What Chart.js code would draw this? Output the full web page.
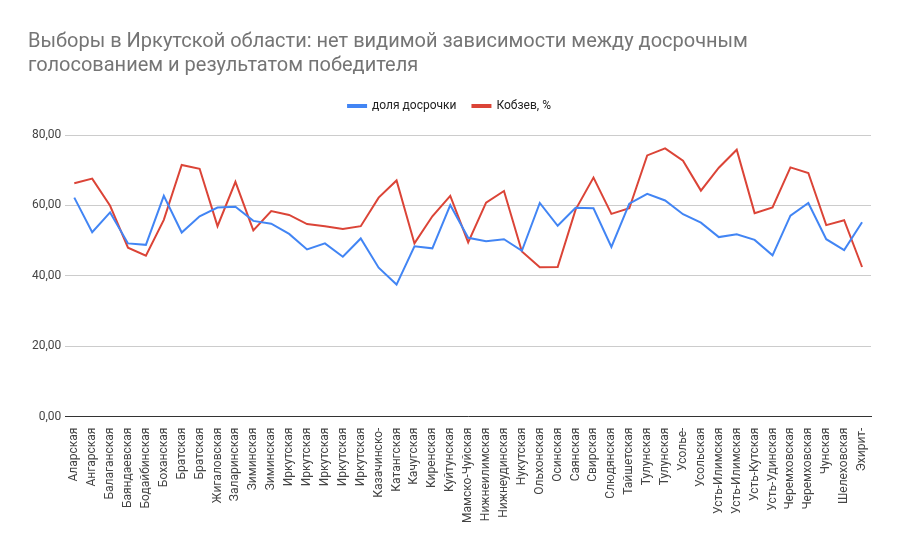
<!DOCTYPE html>
<html><head><meta charset="utf-8">
<script src="https://cdn.jsdelivr.net/npm/chart.js@4"></script>
<style>html,body{margin:0;padding:0;background:#fff}#w{width:899px;height:550px}</style>
</head><body><div id="w"><canvas id="c"></canvas></div>
<script>
const categories=["Аларская","Ангарская","Балаганская","Баяндаевская","Бодайбинская","Боханская","Братская","Братская","Жигаловская","Заларинская","Зиминская","Зиминская","Иркутская","Иркутская","Иркутская","Иркутская","Иркутская","Казачинско-","Катангская","Качугская","Киренская","Куйтунская","Мамско-Чуйская","Нижнеилимская","Нижнеудинская","Нукутская","Ольхонская","Осинская","Саянская","Свирская","Слюдянская","Тайшетская","Тулунская","Тулунская","Усолье-","Усольская","Усть-Илимская","Усть-Илимская","Усть-Кутская","Усть-Удинская","Черемховская","Черемховская","Чунская","Шелеховская","Эхирит-"];
const earlyShare=[62.2,52.4,58,49.2,48.8,62.7,52.3,56.9,59.4,59.6,55.6,54.8,51.9,47.5,49.2,45.4,50.6,42.3,37.5,48.4,47.8,60.1,50.8,49.8,50.4,47.1,60.7,54.2,59.3,59.2,48.2,60.5,63.3,61.4,57.5,55.1,51,51.8,50.2,45.8,57.1,60.7,50.4,47.3,55.2];
const kobzev=[66.3,67.6,59.9,48,45.7,55.9,71.5,70.4,54.1,66.7,52.9,58.4,57.3,54.7,54.1,53.3,54.1,62.2,67.1,49.2,56.9,62.7,49.5,60.8,64.1,46.9,42.4,42.5,58.8,67.9,57.6,59.2,74.2,76.2,72.7,64.2,70.7,75.8,57.8,59.4,70.8,69.2,54.4,55.8,42.5];
const yTicks=[0,20,40,60,80];
Chart.defaults.font.family="Roboto, Arial, sans-serif";
Chart.defaults.color="#616161";
new Chart(document.getElementById('c'),{type:'line',
data:{labels:categories,datasets:[
{label:'доля досрочки',data:earlyShare,borderColor:'#4285F4',backgroundColor:'#4285F4',borderWidth:2,pointRadius:0,tension:0},
{label:'Кобзев, %',data:kobzev,borderColor:'#DB4437',backgroundColor:'#DB4437',borderWidth:2,pointRadius:0,tension:0}]},
plugins:[{id:'lg',beforeInit(c){const f=c.legend.fit;c.legend.fit=function(){f.call(this);this.height+=13;};}}],
options:{responsive:true,maintainAspectRatio:false,animation:false,
layout:{padding:{left:28,right:28,top:30,bottom:24}},
plugins:{title:{display:true,align:'start',text:['Выборы в Иркутской области: нет видимой зависимости между досрочным','голосованием и результатом победителя'],color:'#757575',font:{size:20,weight:'normal'},padding:{top:0,bottom:6},lineHeight:1.25},
legend:{labels:{boxWidth:18,boxHeight:2,font:{size:12},color:'#222',padding:16}},tooltip:{enabled:false}},
scales:{y:{min:0,max:80,afterBuildTicks:a=>{a.ticks=yTicks.map(v=>({value:v}))},ticks:{callback:v=>v.toFixed(2).replace('.',','),font:{size:12},color:'#444',padding:4},grid:{color:'#ccc',drawTicks:false},border:{display:false}},
x:{offset:true,ticks:{autoSkip:false,maxRotation:90,minRotation:90,font:{size:12},color:'#444'},grid:{display:false},border:{color:'#333'}}}}});
</script></body></html>
